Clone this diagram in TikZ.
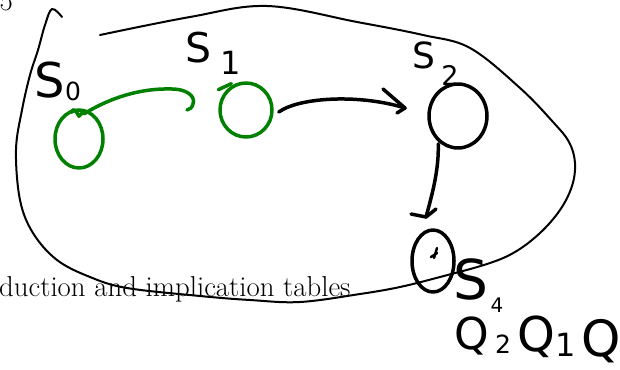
\documentclass[tikz,border=0pt]{standalone}
\usepackage{fontspec}
\newfontfamily\hand{DejaVu Sans}
\usetikzlibrary{shapes.geometric}
\definecolor{pen}{RGB}{0,128,0}
\begin{document}
\begin{tikzpicture}[x=1pt,y=-1pt, line cap=round, line join=round,
  ink/.style={line width=3.5pt},
  bigloop/.style={line width=2pt},
  state/.style={ellipse, draw, line width=3.5pt, inner sep=0pt},
  lab/.style={inner sep=0pt, font=\hand},
  slide/.style={inner sep=0pt, font=\fontsize{28.8}{32}\selectfont}]
\useasboundingbox (0,0) rectangle (620,369);

% slide text behind the sketch
\node[slide, anchor=base west] (title) at (-1,296) {duction and implication tables};
\node[slide, anchor=base east] (num) at (13,11) {5};

% the big enclosing loop
\draw[bigloop] plot[smooth, tension=0.6] coordinates {(100,35) (190,17) (267,6) (357,22) (423,35) (470,48) (520,88) (553,122) (569,142) (575,163) (572,186) (560,210) (540,233) (515,252) (487,264) (440,277) (400,287) (360,294) (300,302) (250,300) (200,296) (127,288) (90,277) (57,260) (33,233) (20,200) (16,150) (22,110) (30,75) (38,50) (45,25) (52,9) (62,17)};

% states
\node[state, pen, minimum width=48pt, minimum height=58pt] (c0) at (79,139) {};
\node[state, pen, minimum width=52pt, minimum height=54pt] (c1) at (246,110) {};
\node[state, minimum width=58pt, minimum height=64pt] (c2) at (458,116) {};
\node[state, minimum width=42pt, minimum height=62pt] (c4) at (433,261) {};

% labels
\node[lab, font=\hand\fontsize{48}{48}\selectfont] (l0) at (50,80) {S};
\node[lab, font=\hand\fontsize{25}{25}\selectfont] (l0s) at (73,91) {0};
\node[lab, font=\hand\fontsize{41}{41}\selectfont] (l1) at (199,48) {S};
\node[lab, font=\hand\fontsize{32}{32}\selectfont] (l1s) at (231,63) {1};
\node[lab, font=\hand\fontsize{36}{36}\selectfont] (l2) at (424,55) {S};
\node[lab, font=\hand\fontsize{27}{27}\selectfont] (l2s) at (450,75) {2};
\node[lab, font=\hand\fontsize{55}{55}\selectfont] (l4) at (471,279) {S};
\node[lab, font=\hand\fontsize{20}{20}\selectfont] (l4s) at (497,305) {4};
\node[lab, font=\hand\fontsize{44}{44}\selectfont] (q1) at (472,336) {Q};
\node[lab, font=\hand\fontsize{25}{25}\selectfont] (q1s) at (503,344) {2};
\node[lab, font=\hand\fontsize{48}{48}\selectfont] (q2) at (536,337) {Q};
\node[lab, font=\hand\fontsize{32}{32}\selectfont] (q2s) at (566,345) {1};
\node[lab, font=\hand\fontsize{50}{50}\selectfont] (q3) at (601,341) {Q};

% free ends of the hand-drawn arrows
\coordinate (e01) at (187,110);
\coordinate (e12) at (405,108);
\coordinate (e24) at (426,217);

% green arrow S0 -> S1 (ends in a curl)
\draw[ink, pen] (c0.north) ++(-7,4) .. controls +(0,-5) and +(-3,-6) .. ++(7,4)
   .. controls +(1,-3) and +(-3,0) .. ++(6,-3)
   .. controls (110,98) and (140,88) .. (172,89)
   .. controls (186,89) and (196,96) .. (193,104)
   .. controls (192,108) and (190,109) .. (e01);
\draw[ink, pen] (c1.north west) ++(-8,0) -- ++(13,-6);

% black arrow S1 -> S2
\draw[ink] (c1.east) ++(5,2) .. controls (300,97) and (360,94) .. (e12);
\draw[ink] (383,89) -- (e12) -- (397,113);

% black arrow S2 -> S4
\draw[ink] (c2.south west) ++(2,4) .. controls (439,170) and (432,195) .. (e24);
\draw[ink] (411,214) -- (e24) -- (436,209);

% mark inside S4
\draw[line width=2.5pt] (437,248) -- (434,258);
\draw[line width=2.5pt] (431,257) -- (437,253);
\end{tikzpicture}
\end{document}
